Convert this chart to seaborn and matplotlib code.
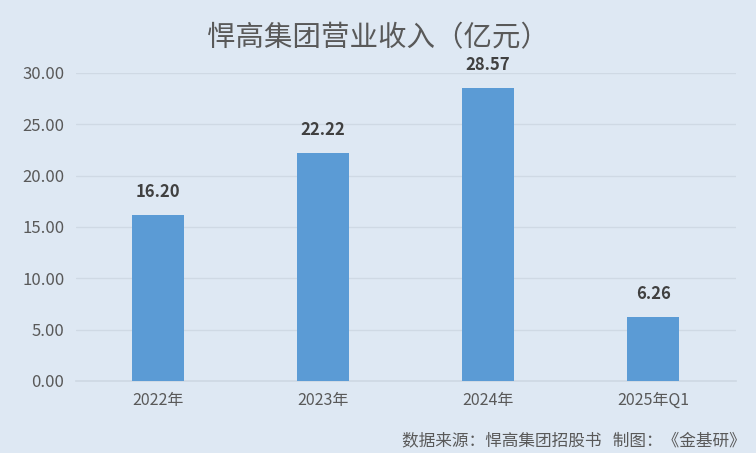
import pandas as pd
import matplotlib.pyplot as plt
import seaborn as sns

# 悍高集团营业收入（亿元）
periods = ['2022年', '2023年', '2024年', '2025年Q1']
revenue = [16.20, 22.22, 28.57, 6.26]
yticks = [0, 5, 10, 15, 20, 25, 30]

df = pd.DataFrame({'period': periods, 'revenue': revenue})

bg = '#dee8f3'
sns.set_theme(style='white')
plt.rcParams['font.family'] = ['Noto Sans CJK SC', 'DejaVu Sans']

fig = plt.figure(figsize=(7.56, 4.53), dpi=100, facecolor=bg)
ax = fig.add_axes([0.1, 0.159, 0.873, 0.68], facecolor=bg)

sns.barplot(data=df, x='period', y='revenue', color='#5b9bd5', width=0.32,
            saturation=1, edgecolor='none', linewidth=0, ax=ax, zorder=3)

ax.set_ylim(0, 30)
ax.set_yticks(yticks)
ax.set_yticklabels([f'{v:.2f}' for v in yticks], color='#595959', fontsize=12)
ax.tick_params(axis='x', colors='#595959', labelsize=11.5, length=0, pad=8)
ax.tick_params(axis='y', length=0, pad=8)
ax.grid(axis='y', color='#cfd9e4', linewidth=1, zorder=0)
ax.set_xlabel('')
ax.set_ylabel('')
for s in ['top', 'right', 'left']:
    ax.spines[s].set_visible(False)
ax.spines['bottom'].set_color('#cfd9e4')

for i, v in enumerate(revenue):
    ax.text(i, v + 1.3, f'{v:.2f}', ha='center', va='bottom',
            fontsize=12, color='#404040', fontweight='bold')

fig.text(0.5, 0.915, '悍高集团营业收入（亿元）', ha='center', va='center',
         fontsize=20.5, color='#595959')
fig.text(0.987, 0.028, '数据来源：悍高集团招股书   制图：《金基研》', ha='right',
         va='center', fontsize=12, color='#595959')

plt.savefig('out.png', dpi=100, facecolor=bg)
